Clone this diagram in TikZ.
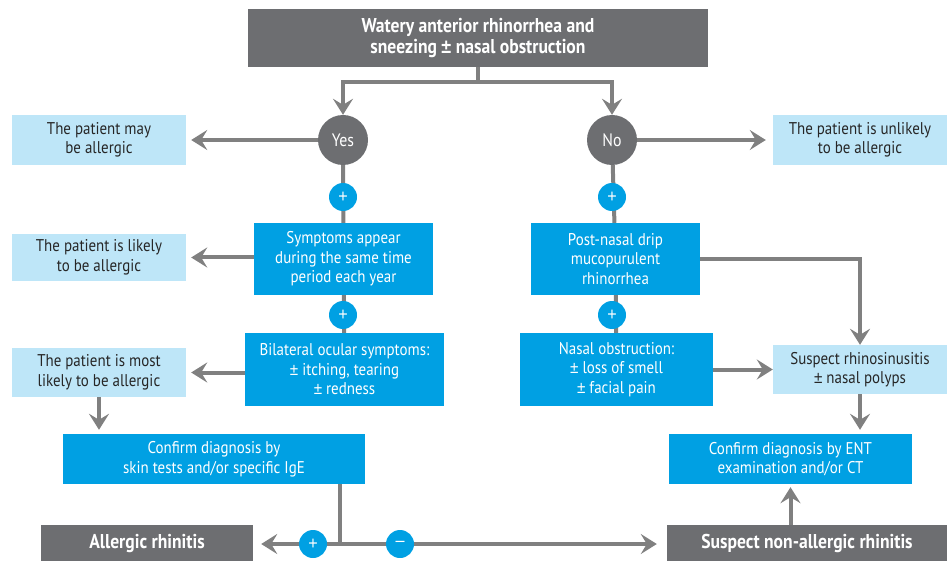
\documentclass[tikz,border=0pt]{standalone}
\usepackage{fontspec}
\setmainfont{PT Sans}[FakeStretch=0.88]
\newfontfamily\pmfont{Liberation Sans}[FakeStretch=0.9]
\newcommand\plmi{{\pmfont ±}}
\usetikzlibrary{arrows.meta,backgrounds}
\definecolor{dgray}{HTML}{6D6E71}
\definecolor{cblue}{HTML}{00A0E3}
\definecolor{lblue}{HTML}{BEE6F8}
\definecolor{lgray}{HTML}{808080}
\begin{document}
\begin{tikzpicture}[x=1pt,y=-1pt,
  every node/.style={align=center,inner sep=2pt,font=\fontsize{17}{19.5}\selectfont},
  gbox/.style={fill=dgray,text=white,font=\bfseries\fontsize{20}{21}\selectfont},
  bbox/.style={fill=cblue,text=white},
  lbox/.style={fill=lblue,text=black!85},
  gcirc/.style={circle,fill=dgray,text=white,minimum size=50pt,inner sep=0pt,font=\fontsize{18}{18}\selectfont},
  pcirc/.style={circle,fill=cblue,text=white,minimum size=28pt,inner sep=0pt,font=\pmfont\fontsize{18}{18}\selectfont},
  conn/.style={draw=lgray,line width=4pt},
  arr/.style={conn,-{Stealth[length=16pt,width=20pt,inset=6pt]}},
]
\useasboundingbox (0,0) rectangle (947,561);
\node[gbox,minimum width=460pt,minimum height=58pt] (top) at (478,38) {Watery anterior rhinorrhea and\\sneezing {\pmfont\bfseries ±} nasal obstruction};
\node[gcirc] (yes) at (343,140) {Yes};
\node[gcirc] (no) at (612,140) {No};
\node[lbox,minimum width=174pt,minimum height=50pt] (may) at (99,140) {The patient may\\be allergic};
\node[lbox,minimum width=174pt,minimum height=50pt] (unlikely) at (860,140) {The patient is unlikely\\to be allergic};
\node[pcirc] (p1) at (343,197) {+};
\node[pcirc] (p3) at (612,197) {+};
\node[bbox,minimum width=179pt,minimum height=72pt] (sym) at (343.5,259) {Symptoms appear\\during the same time\\period each year};
\node[lbox,minimum width=174pt,minimum height=47pt] (likely) at (99,257.5) {The patient is likely\\to be allergic};
\node[bbox,minimum width=169pt,minimum height=72pt] (post) at (615.5,259) {Post-nasal drip\\mucopurulent\\rhinorrhea};
\node[pcirc] (p2) at (343,315) {+};
\node[pcirc] (p4) at (612,315) {+};
\node[bbox,minimum width=199pt,minimum height=73pt] (bil) at (344.5,369.5) {Bilateral ocular symptoms:\\\plmi{} itching, tearing\\\plmi{} redness};
\node[lbox,minimum width=174pt,minimum height=49pt] (most) at (99,372.5) {The patient is most\\likely to be allergic};
\node[bbox,minimum width=193pt,minimum height=73pt] (nasal) at (616.5,369.5) {Nasal obstruction:\\\plmi{} loss of smell\\\plmi{} facial pain};
\node[lbox,minimum width=174pt,minimum height=49pt] (rhino) at (860,369.5) {Suspect rhinosinusitis\\\plmi{} nasal polyps};
\node[bbox,minimum width=302pt,minimum height=50pt] (confL) at (214,459) {Confirm diagnosis by\\skin tests and/or specific IgE};
\node[bbox,minimum width=243pt,minimum height=50pt] (confR) at (790.5,459) {Confirm diagnosis by ENT\\examination and/or CT};
\node[gbox,minimum width=212pt,minimum height=36pt,anchor=north] (allergic) at (147,525) {Allergic rhinitis};
\node[gbox,minimum width=280pt,minimum height=36pt,anchor=north] (nonall) at (807,525) {Suspect non-allergic rhinitis};
\node[pcirc] (pb) at (313,544) {+};
\node[pcirc] (mb) at (400,544) {–};
\coordinate (jt) at (478,82);
\coordinate (jb) at (340,544);
\begin{pgfonlayer}{background}
\draw[conn] (top.south) -- (jt);
\draw[arr] (jt) -| (yes.north);
\draw[arr] (jt) -| (no.north);
\draw[arr,shorten >=5pt] (yes) -- (may);
\draw[arr,shorten >=7pt] (no) -- (unlikely);
\draw[conn] (yes) -- (sym);
\draw[conn] (sym) -- (bil);
\draw[conn] (no) -- (post);
\draw[conn] (post) -- (nasal);
\draw[arr,shorten >=5pt] (sym.west |- likely.east) -- (likely.east);
\draw[arr,shorten >=5pt] (bil.west |- most.east) -- (most.east);
\draw[arr,shorten >=4pt] (most.south) -- (most.south |- confL.north);
\draw[conn] (jb |- confL.south) -- (jb);
\draw[arr,shorten >=8pt] (jb) -- (allergic.east |- jb);
\draw[arr,shorten >=10pt] (jb) -- (nonall.west |- jb);
\draw[arr,shorten >=3pt] (confR.south |- nonall.north) -- (confR.south);
\draw[arr] (post.east) -| (rhino.north);
\draw[arr] (nasal.east) -- (rhino.west);
\draw[arr,shorten >=4pt] (rhino.south) -- (rhino.south |- confR.north);
\end{pgfonlayer}
\end{tikzpicture}
\end{document}
